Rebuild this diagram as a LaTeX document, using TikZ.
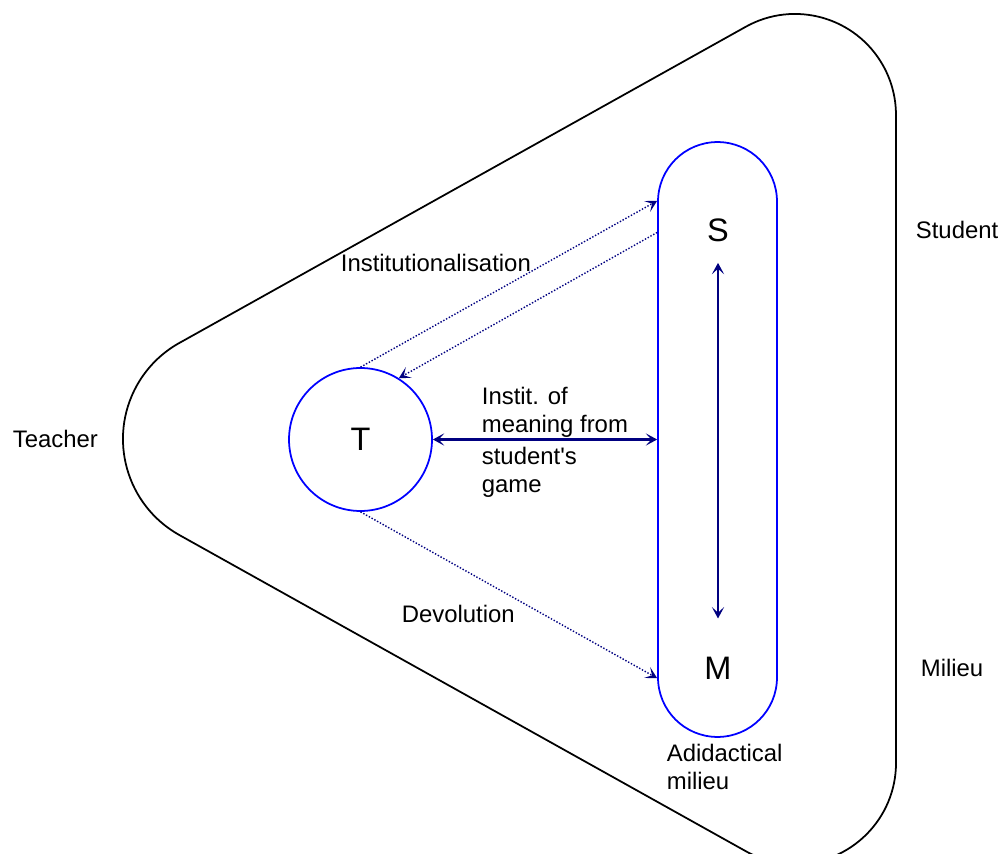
\documentclass[tikz,border=0pt]{standalone}
\usepackage{fontspec}
\setmainfont{Liberation Sans}
\usepackage[dvipsnames]{xcolor}
\usetikzlibrary{arrows.meta,calc}
\definecolor{navy}{RGB}{0,0,128}

\begin{document}
\begin{tikzpicture}[x=0.02cm,y=-0.02cm,>={Stealth[length=6.5pt,width=7pt,inset=3.2pt]},line width=1pt,
    main node/.style={circle,draw=blue,minimum size=2.86cm,inner sep=0pt,font=\fontsize{18.5}{21}\selectfont},
    big label/.style={inner sep=0pt,font=\fontsize{18.5}{21}\selectfont},
    label text/.style={inner sep=0pt,align=left,font=\fontsize{13.6}{15.9}\selectfont},
    dot arrow/.style={->,navy,densely dotted,line width=0.8pt},
    both arrow/.style={<->,navy,line width=1.3pt}]

    \useasboundingbox (0,0) rectangle (1000,854);

    % outer rounded triangle
    \draw[black] (179.3,343) -- (745.7,26.8) arc[start angle=-119.2,end angle=0,radius=101]
        -- (896,763) arc[start angle=0,end angle=119.2,radius=101]
        -- (179.3,535) arc[start angle=119.2,end angle=240.8,radius=110] -- cycle;

    \node[draw=blue,rounded corners=1.19cm,minimum width=2.38cm,minimum height=11.9cm,inner sep=0pt] (SM) at (717.5,439.5) {};
    \node[main node] (T) at (360.5,439.5) {T};
    \node[big label] (S) at (718,230) {S};
    \node[big label] (M) at (718,668) {M};

    \node[label text,anchor=base west] (teacher) at (12,447) {Teacher};
    \node[label text,anchor=base west] (student) at (915,239) {Student};
    \node[label text,anchor=base west] (milieu) at (920,676) {Milieu};
    \node[label text,anchor=base west] (inst) at (340,272) {Institutionalisation};
    \node[label text,anchor=base west] (devol) at (401,622) {Devolution};
    \node[label text,anchor=north west] (meaning) at (481,386) {Instit. of\\meaning from};
    \node[label text,anchor=north west] (game) at (481,446) {student\textquotesingle s\\game};
    \node[label text,anchor=north west] (adid) at (666,743) {Adidactical\\milieu};

    \coordinate (inA) at ($(SM.north west)!0.1!(SM.south west)$);
    \coordinate (inB) at ($(SM.north west)!0.153!(SM.south west)$);
    \coordinate (inC) at ($(SM.north west)!0.9!(SM.south west)$);

    \path[dot arrow]
        (T.90) edge (inA)
        (inB) edge (T.58)
        (T.270) edge (inC)
    ;
    \path[both arrow]
        (T.east) edge (SM.west)
        ([yshift=-0.41cm]S.south) edge ([yshift=0.75cm]M.north)
    ;
\end{tikzpicture}
\end{document}
